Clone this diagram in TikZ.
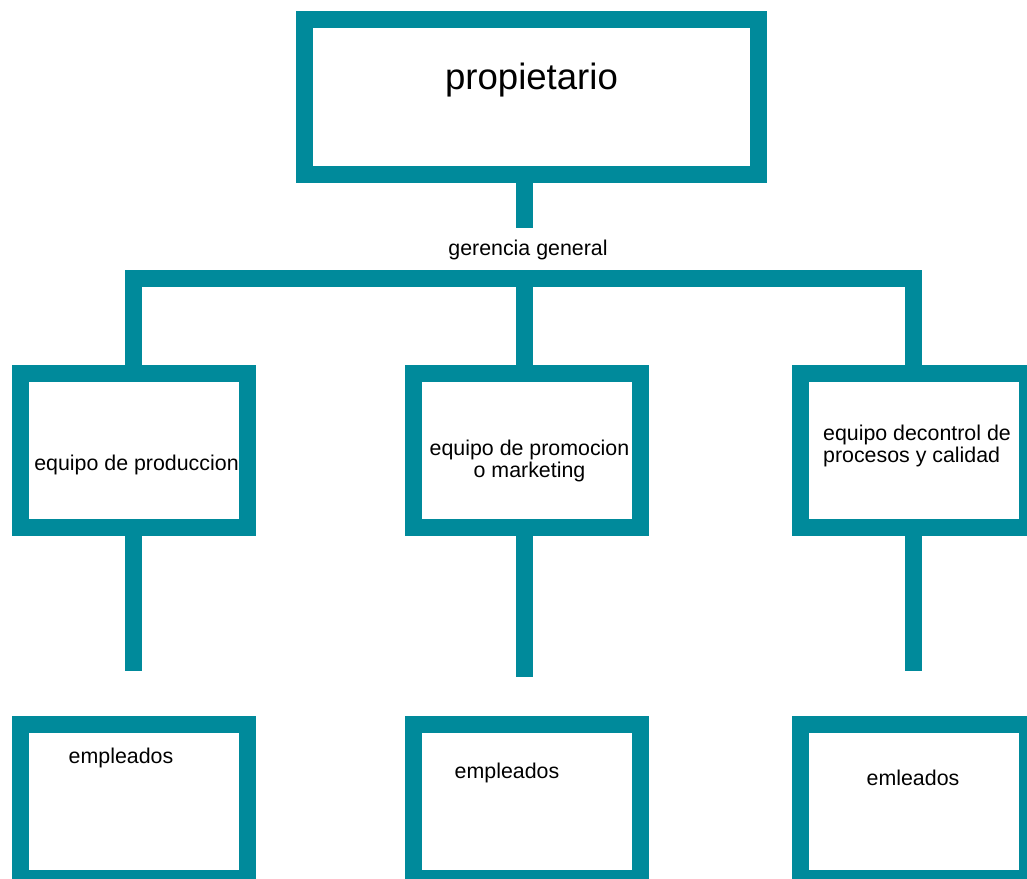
\documentclass[tikz,border=0pt]{standalone}
\usepackage{fontspec}
\setmainfont{Liberation Sans}
\usepackage{xcolor}
\definecolor{colorBox}{RGB}{0,138,155}
\usetikzlibrary{positioning}
\tikzset{box/.style={draw=colorBox, line width=0.425cm, minimum width=5.675cm, minimum height=3.85cm, inner sep=0pt},
         link/.style={draw=colorBox, line width=0.425cm, line join=miter},
         boxtext/.style={inner sep=0pt, font=\fontsize{15.2}{16.3}\selectfont}}

\begin{document}
\begin{tikzpicture}[x=0.025cm, y=-0.025cm]
\useasboundingbox (0,0) rectangle (1027,879);
\node[box, minimum width=11.35cm, minimum height=3.875cm] (prop) at (531.5,97) {};
\node[box] (prod) at (134,450.5) {};
\node[box] (promo) at (527,450.5) {};
\node[box] (calidad) at (914,450.5) {};
\node[box] (emp1) at (134,801.5) {};
\node[box] (emp2) at (527,801.5) {};
\node[box] (emp3) at (914,801.5) {};
\coordinate (gg) at (524,228);
\coordinate (bar) at (524,278.5);
\coordinate (e1) at (133.5,671);
\coordinate (e2) at (524,677);
\coordinate (e3) at (913,671);
\draw[link] (prop.south -| gg) -- (gg);
\draw[link] (prod.north -| e1) |- (bar) -| (calidad.north -| e3);
\draw[link] (bar) -- (promo.north -| e2);
\draw[link] (prod.south -| e1) -- (e1);
\draw[link] (promo.south -| e2) -- (e2);
\draw[link] (calidad.south -| e3) -- (e3);
\node[inner sep=0pt, font=\fontsize{26}{30}\selectfont] (tprop) at (531.5,80) {propietario};
\node[boxtext] (tgg) at (528,250) {gerencia general};
\node[boxtext] (tprod) at (136.5,465) {equipo de produccion};
\node[boxtext, align=center] (tpromo) at (529.5,461) {equipo de promocion\\o marketing};
\node[boxtext, align=left] (tcal) at (917,446) {equipo decontrol de\\procesos y calidad};
\node[boxtext] (temp1) at (121,758) {empleados};
\node[boxtext] (temp2) at (507,773) {empleados};
\node[boxtext] (temp3) at (913,778) {emleados};
\end{tikzpicture}
\end{document}
